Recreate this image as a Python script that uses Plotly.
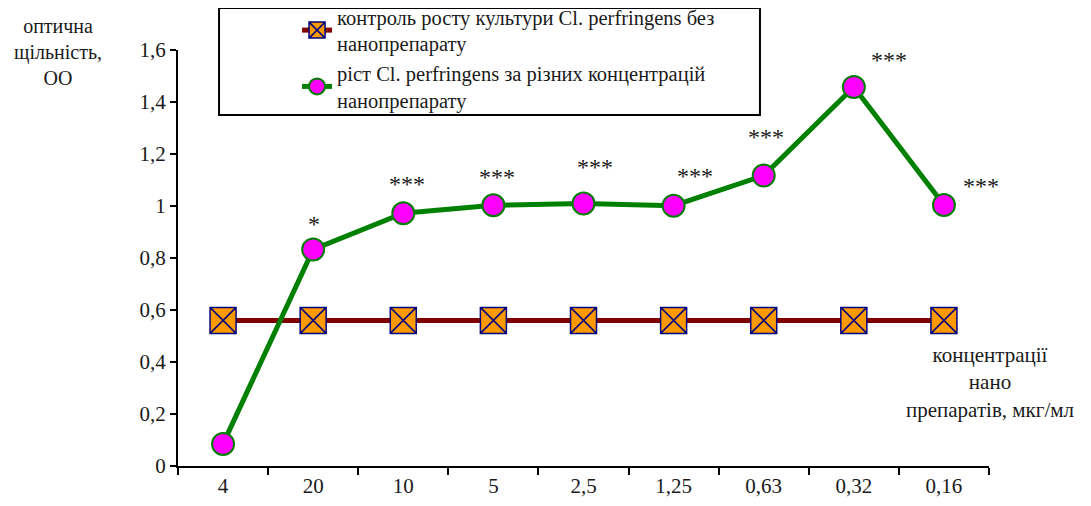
import plotly.graph_objects as go

categories = ["4", "20", "10", "5", "2,5", "1,25", "0,63", "0,32", "0,16"]
control_values = [0.56, 0.56, 0.56, 0.56, 0.56, 0.56, 0.56, 0.56, 0.56]
growth_values = [0.085, 0.833, 0.972, 1.003, 1.010, 1.001, 1.117, 1.458, 1.004]
star_labels = ["", "*", "***", "***", "***", "***", "***", "***", "***"]
y_ticks = [0, 0.2, 0.4, 0.6, 0.8, 1.0, 1.2, 1.4, 1.6]

# pixel offsets of the significance labels (styling)
star_dx = [0, 1, 4, 4, 11, 21, 2, 35, 37]
star_dy = [0, 25, 29, 28, 36, 30, 39, 27, 19]

FONT = "Liberation Serif, Times New Roman, serif"
TXT = "#1a1a1a"

fig = go.Figure()
fig.add_trace(go.Scatter(
    x=categories, y=control_values, mode="lines+markers",
    name="контроль росту культури Cl. perfringens без<br>нанопрепарату",
    line=dict(color="#800000", width=5),
    marker=dict(symbol="square-x", size=26, color="#FF9900",
                line=dict(color="#000080", width=1.5)),
))
fig.add_trace(go.Scatter(
    x=categories, y=growth_values, mode="lines+markers",
    name="ріст Cl. perfringens за різних концентрацій<br>нанопрепарату",
    line=dict(color="#008000", width=5),
    marker=dict(symbol="circle", size=22, color="#FF00FF",
                line=dict(color="#008000", width=2)),
))

for i, (v, s, dx, dy) in enumerate(zip(growth_values, star_labels, star_dx, star_dy)):
    if s:
        fig.add_annotation(x=i, y=v, text=s, showarrow=False, xshift=dx, yshift=dy,
                           font=dict(family=FONT, size=24, color=TXT))

fig.add_annotation(xref="paper", yref="paper", x=1.001, y=0.2, xanchor="center", yanchor="middle",
                   text="концентрації<br>нано<br>препаратів, мкг/мл", showarrow=False,
                   font=dict(family=FONT, size=21, color=TXT), align="center")
fig.add_annotation(xref="paper", yref="paper", x=-0.148, y=0.995, xanchor="center", yanchor="middle",
                   text="оптична<br>щільність,<br>ОО", showarrow=False,
                   font=dict(family=FONT, size=20, color=TXT), align="center")

# legend frame
fig.add_shape(type="rect", xref="paper", yref="paper", x0=0.0506, x1=0.7176, y0=0.8438, y1=1.101,
              line=dict(color="black", width=2), fillcolor="white", layer="below")

fig.update_layout(
    width=1083, height=498,
    margin=dict(l=170, r=102, t=42, b=40, autoexpand=False),
    paper_bgcolor="white", plot_bgcolor="rgba(0,0,0,0)",
    separators=", ",
    font=dict(family=FONT, size=21, color=TXT),
    showlegend=True,
    legend=dict(x=0.0506, y=1.1275, xanchor="left", yanchor="top",
                borderwidth=0, bgcolor="rgba(0,0,0,0)",
                font=dict(family=FONT, size=20.5, color=TXT),
                indentation=78, tracegroupgap=0),
    xaxis=dict(type="category", showline=True, linecolor="black", linewidth=2,
               ticks="outside", tickson="boundaries", ticklen=7, tickwidth=2, tickcolor="black",
               showgrid=False, zeroline=False, range=[-0.5, 8.5]),
    yaxis=dict(range=[0, 1.6], tickvals=y_ticks, showline=True, linecolor="black", linewidth=2,
               ticks="outside", ticklen=6, tickwidth=2, tickcolor="black",
               showgrid=False, zeroline=False),
)

fig.write_html("out.html")
